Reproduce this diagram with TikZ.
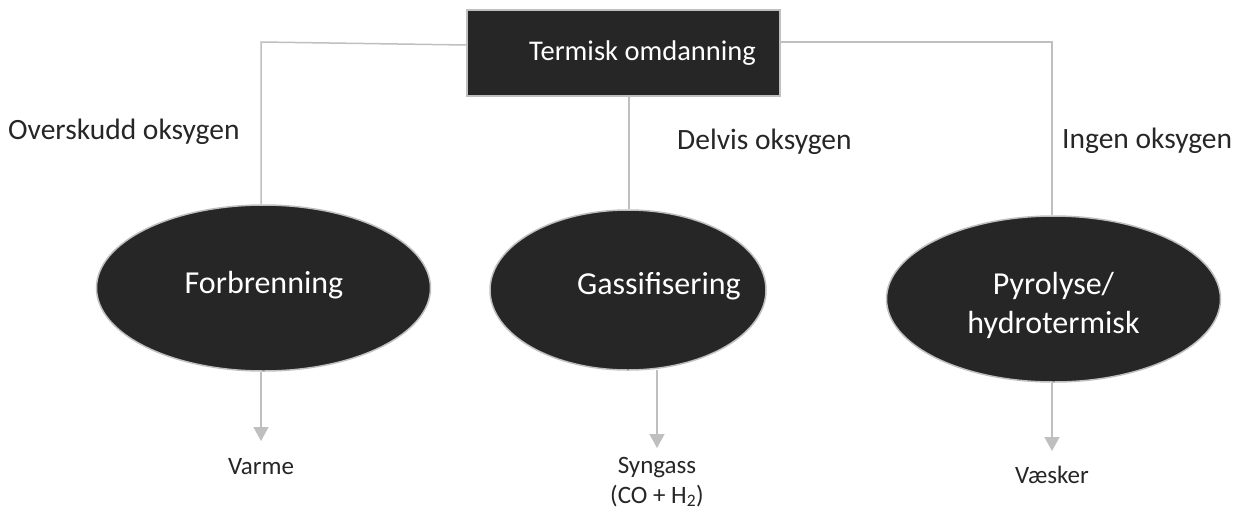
\documentclass[tikz,border=0pt]{standalone}
\usepackage{fontspec}
\setmainfont{Carlito}
\usetikzlibrary{shapes.geometric,arrows.meta}
\definecolor{dark}{HTML}{262626}
\definecolor{linegray}{HTML}{BFBFBF}
\definecolor{txt}{HTML}{262626}
\tikzset{
  topbox/.style={draw=linegray, line width=1.5pt, fill=dark, text=white, minimum width=313pt, minimum height=86pt, inner sep=0pt, font=\fontsize{28.5}{34}\selectfont},
  oval/.style={ellipse, draw=linegray, line width=1.5pt, fill=dark, inner sep=0pt},
  ovaltext/.style={text=white, inner sep=0pt, font=\fontsize{32}{39}\selectfont, align=center},
  conn/.style={draw=linegray, line width=1.5pt},
  arr/.style={draw=linegray, line width=1.5pt, -{Triangle[length=14pt,width=15pt]}},
  lbl/.style={text=txt, font=\fontsize{29.5}{34}\selectfont, inner sep=0pt},
  outlbl/.style={text=txt, font=\fontsize{25}{30}\selectfont, inner sep=0pt, align=center},
}
\begin{document}
\begin{tikzpicture}[x=1pt,y=-1pt]
\useasboundingbox (0,0) rectangle (1242,515);
\node[topbox] (top) at (623.5,53) {\hspace*{38pt}Termisk omdanning};
\node[oval, minimum width=334pt, minimum height=166pt] (f) at (263.5,288) {};
\node[oval, minimum width=276pt, minimum height=160pt] (g) at (628,290) {};
\node[oval, minimum width=334pt, minimum height=166pt] (p) at (1053.5,299) {};
\node[ovaltext] (ft) at (264,285) {Forbrenning};
\node[ovaltext] (gt) at (659,286) {Gassifisering};
\node[ovaltext] (pt) at (1053.5,305) {Pyrolyse/\\hydrotermisk};
\coordinate (lc) at (261,42);
\coordinate (rc) at (1052,42);
\draw[conn] (top.west |- 0,45) -- (lc) -- (f.north -| lc);
\draw[conn] (top.south -| 629,0) -- (g.north -| 629,0);
\draw[conn] (top.east |- rc) -- (rc) -- (p.north -| rc);
\node[outlbl] (varme) at (261,467) {Varme};
\node[outlbl] (syn) at (657,482) {Syngass\\(CO + H\textsubscript{2})};
\node[outlbl] (vask) at (1052,475) {Væsker};
\coordinate (ga) at (657,370);
\draw[arr] (f.south -| varme) -- (261,441);
\draw[arr] (ga) -- (657,448);
\draw[arr] (p.south -| vask) -- (1052,451);
\node[lbl, anchor=west] (lo) at (8,132) {Overskudd oksygen};
\node[lbl, anchor=west] (ld) at (677,142) {Delvis oksygen};
\node[lbl, anchor=west] (li) at (1062,141) {Ingen oksygen};
\end{tikzpicture}
\end{document}
